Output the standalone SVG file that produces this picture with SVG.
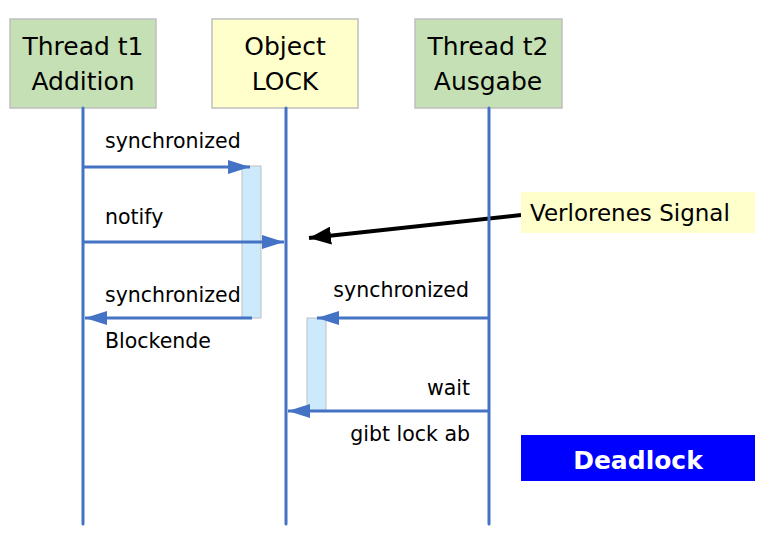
<svg xmlns="http://www.w3.org/2000/svg" width="780" height="537" viewBox="0 0 780 537">
<defs>
<style>
.hdr{fill:#c5e0b4;stroke:#bfbfbf;stroke-width:1.5}
.obj{fill:#ffffcc;stroke:#bfbfbf;stroke-width:1.5}
.t{font-family:"DejaVu Sans",Verdana,sans-serif;fill:#000}
.h{font-size:25px;text-anchor:middle}
.l{font-size:20.5px}
.life{stroke:#4472c4;stroke-width:3;stroke-linecap:round;fill:none}
.msg{stroke:#4472c4;stroke-width:3;fill:none}
.act{fill:#cdeafc;stroke:#bfbfbf;stroke-width:1}
</style>
<marker id="ah" markerUnits="userSpaceOnUse" viewBox="0 0 22 14" refX="22" refY="7" markerWidth="22" markerHeight="14" orient="auto">
<path d="M0,0 L22,7 L0,14 Z" fill="#4472c4"/>
</marker>
<marker id="bh" markerUnits="userSpaceOnUse" viewBox="0 0 22 18" refX="22" refY="9" markerWidth="22" markerHeight="18" orient="auto">
<path d="M0,0 L22,9 L0,18 Z" fill="#000"/>
</marker>
</defs>
<rect width="780" height="537" fill="#fff"/>

<g id="t1">
<rect class="hdr" x="10" y="19" width="146" height="89"/>
<text class="t h" x="83" y="55">Thread t1</text>
<text class="t h" x="83" y="90">Addition</text>
</g>
<g id="lock">
<rect class="obj" x="212" y="19" width="146" height="89"/>
<text class="t h" x="285" y="55">Object</text>
<text class="t h" x="285" y="90">LOCK</text>
</g>
<g id="t2">
<rect class="hdr" x="415" y="19" width="147" height="89"/>
<text class="t h" x="488" y="55">Thread t2</text>
<text class="t h" x="488" y="90">Ausgabe</text>
</g>

<g id="signal-connector">
<line x1="521" y1="215" x2="309" y2="238" stroke="#000" stroke-width="4" marker-end="url(#bh)"/>
</g>

<g id="lifelines">
<line class="life" x1="83" y1="108" x2="83" y2="524"/>
<line class="life" x1="286" y1="108" x2="286" y2="524"/>
<line class="life" x1="489" y1="108" x2="489" y2="524"/>
</g>

<g id="activations">
<rect class="act" x="242" y="166" width="19" height="152"/>
<rect class="act" x="307" y="318" width="19" height="93"/>
</g>

<g id="connectors">
<line class="msg" x1="83" y1="167" x2="250" y2="167" marker-end="url(#ah)"/>
<line class="msg" x1="83" y1="242" x2="284" y2="242" marker-end="url(#ah)"/>
<line class="msg" x1="252" y1="318" x2="85" y2="318" marker-end="url(#ah)"/>
<line class="msg" x1="489" y1="318" x2="317" y2="318" marker-end="url(#ah)"/>
<line class="msg" x1="489" y1="411" x2="288" y2="411" marker-end="url(#ah)"/>
</g>

<g id="labels">
<text class="t l" x="105" y="148">synchronized</text>
<text class="t l" x="105" y="224">notify</text>
<text class="t l" x="105" y="302">synchronized</text>
<text class="t l" x="105" y="348">Blockende</text>
<text class="t l" x="469" y="297" text-anchor="end">synchronized</text>
<text class="t l" x="470" y="395" text-anchor="end">wait</text>
<text class="t l" x="470" y="441" text-anchor="end">gibt lock ab</text>
</g>

<g id="signal">
<rect x="521" y="192" width="234" height="41" fill="#ffffcc"/>
<text class="t" x="530" y="221" font-size="23px">Verlorenes Signal</text>
</g>

<g id="deadlock">
<rect x="521" y="435" width="234" height="46" fill="#0000ff"/>
<text x="638" y="469" text-anchor="middle" font-family="'DejaVu Sans',Verdana,sans-serif" font-weight="bold" font-size="25px" fill="#fff">Deadlock</text>
</g>
</svg>
